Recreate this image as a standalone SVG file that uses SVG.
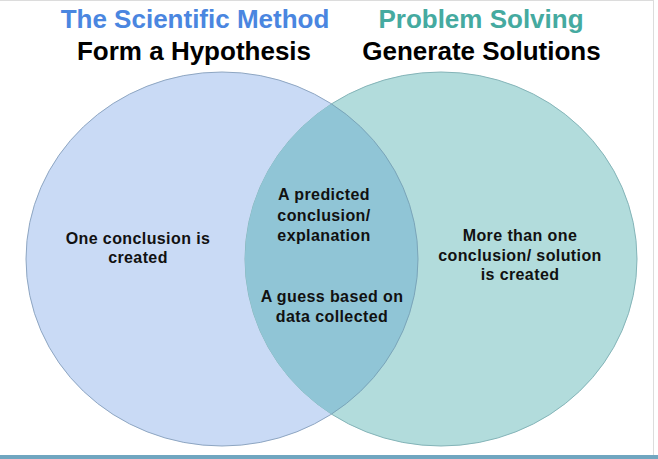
<svg xmlns="http://www.w3.org/2000/svg" width="658" height="459" viewBox="0 0 658 459">
<style>
.title{font-family:"Liberation Sans",Arial,sans-serif;font-weight:bold;font-size:26px;text-anchor:middle}
.lbl{font-family:"Liberation Sans",Arial,sans-serif;font-weight:bold;font-size:16px;letter-spacing:0.4px;text-anchor:middle;fill:#111}
</style>
<defs>
<clipPath id="clipLeft"><ellipse cx="222" cy="259" rx="196" ry="187"/></clipPath>
<clipPath id="clipRight"><ellipse cx="441" cy="259" rx="196" ry="187"/></clipPath>
</defs>
<rect width="658" height="459" fill="#ffffff"/>
<line x1="0" y1="0.5" x2="654" y2="0.5" stroke="#dcdcdc" stroke-width="1"/>
<line x1="653.5" y1="0" x2="653.5" y2="456" stroke="#dcdcdc" stroke-width="1"/>
<rect x="0" y="455" width="658" height="4" fill="#70a6c0"/>
<g id="titles">
<text class="title" x="195" y="28" fill="#4a86e0">The Scientific Method</text>
<text class="title" x="194" y="60" fill="#000">Form a Hypothesis</text>
<text class="title" x="481" y="28" fill="#45aaa0">Problem Solving</text>
<text class="title" x="481.5" y="60" fill="#000">Generate Solutions</text>
</g>
<g id="left-circle">
<ellipse cx="222" cy="259" rx="196" ry="187" fill="#c9daf5" stroke="#8ea6c2" stroke-width="1"/>
</g>
<g id="right-circle">
<ellipse cx="441" cy="259" rx="196" ry="187" fill="#b2dcdc" stroke="#84b4b8" stroke-width="1"/>
</g>
<g id="intersection">
<ellipse cx="441" cy="259" rx="196" ry="187" fill="#90c5d6" clip-path="url(#clipLeft)"/>
<ellipse cx="222" cy="259" rx="196" ry="187" fill="none" stroke="#7aa4b8" stroke-width="1" clip-path="url(#clipRight)"/>
</g>
<g id="left-text">
<text class="lbl" x="138" y="244">One conclusion is</text>
<text class="lbl" x="138" y="263">created</text>
</g>
<g id="middle-text">
<text class="lbl" x="324" y="200">A predicted</text>
<text class="lbl" x="324" y="220.5">conclusion/</text>
<text class="lbl" x="324" y="241">explanation</text>
<text class="lbl" x="332" y="301.5">A guess based on</text>
<text class="lbl" x="332" y="321.5">data collected</text>
</g>
<g id="right-text">
<text class="lbl" x="520" y="241">More than one</text>
<text class="lbl" x="520" y="260.5">conclusion/ solution</text>
<text class="lbl" x="520" y="280">is created</text>
</g>
<g id="connectors"/>
</svg>
